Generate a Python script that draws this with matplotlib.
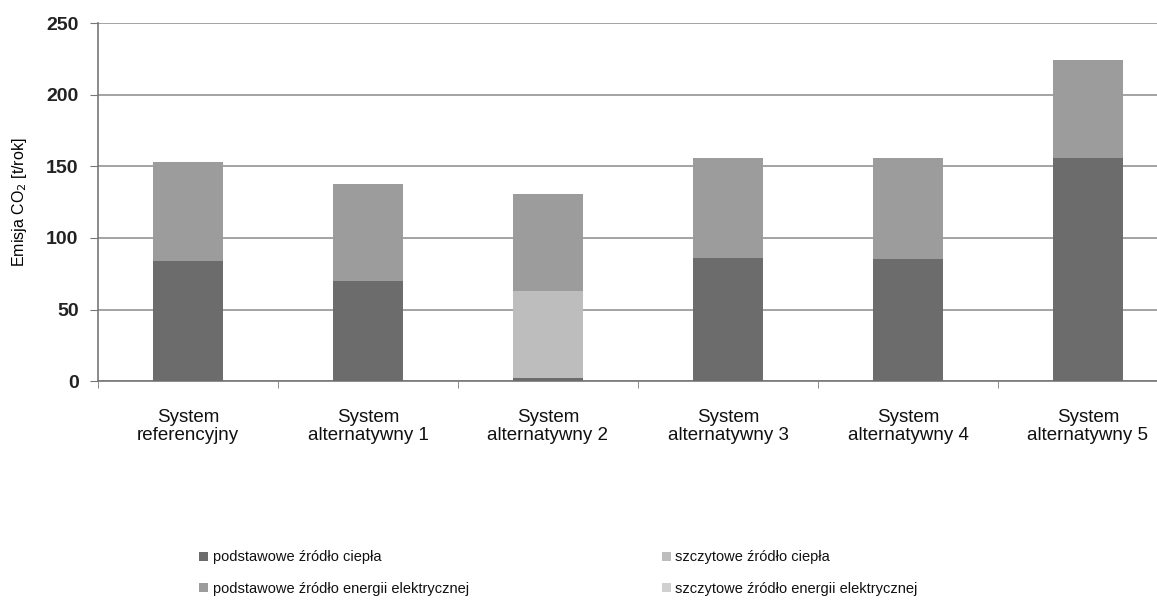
import matplotlib.pyplot as plt
import numpy as np

plt.rcParams['font.family'] = ['Liberation Sans', 'DejaVu Sans']

systems = ['System\nreferencyjny', 'System\nalternatywny 1', 'System\nalternatywny 2',
           'System\nalternatywny 3', 'System\nalternatywny 4', 'System\nalternatywny 5']

# emisja CO2 [t/rok] dla kazdego zrodla
podst_cieplo = [84, 70, 2, 86, 85, 156]
szczyt_cieplo = [0, 0, 61, 0, 0, 0]
podst_el = [69, 68, 68, 70, 71, 68]
szczyt_el = [0, 0, 0, 0, 0, 0]

series = [
    ('podstawowe źródło ciepła', podst_cieplo, '#6c6c6c'),
    ('szczytowe źródło ciepła', szczyt_cieplo, '#bdbdbd'),
    ('podstawowe źródło energii elektrycznej', podst_el, '#9c9c9c'),
    ('szczytowe źródło energii elektrycznej', szczyt_el, '#d0d0d0'),
]

fig = plt.figure(figsize=(11.57, 6.05), dpi=100)
ax = fig.add_axes([0.0847, 0.370, 0.9334, 0.5917])

x = np.arange(len(systems))
bottom = np.zeros(len(systems))
handles = []
for name, vals, col in series:
    b = ax.bar(x, vals, 0.39, bottom=bottom, color=col, label=name, zorder=3)
    handles.append(b)
    bottom += np.array(vals)

ax.set_xlim(-0.5, len(systems) - 0.5)
ax.set_ylim(0, 250)
ax.set_yticks([0, 50, 100, 150, 200, 250])
ax.yaxis.grid(True, color='#8a8a8a', linewidth=1.1, zorder=0)
ax.set_xticks(x)
ax.set_xticklabels(systems, fontsize=13.5, linespacing=1.1, color='#111111')
ax.set_xticks(np.arange(-0.5, len(systems), 1.0), minor=True)
ax.tick_params(axis='x', which='major', length=0, pad=20)
ax.tick_params(axis='x', which='minor', length=5, color='#777777')
ax.tick_params(axis='y', length=6, color='#777777', labelsize=14, pad=8)
for lbl in ax.get_yticklabels():
    lbl.set_fontweight('bold')
    lbl.set_color('#222222')

for s in ['top', 'right']:
    ax.spines[s].set_visible(False)
for s in ['left', 'bottom']:
    ax.spines[s].set_color('#777777')
    ax.spines[s].set_linewidth(1.2)

ax.set_ylabel('Emisja CO$_2$ [t/rok]', fontsize=11.5, labelpad=12)

# legenda w dwoch kolumnach pod wykresem
kw = dict(frameon=False, fontsize=10.5, handlelength=0.6, handleheight=0.6,
          handletextpad=0.3, labelspacing=1.2, labelcolor='#111111')
fig.legend([handles[0], handles[2]], [series[0][0], series[2][0]],
           loc='upper left', bbox_to_anchor=(0.161, 0.112), **kw)
fig.legend([handles[1], handles[3]], [series[1][0], series[3][0]],
           loc='upper left', bbox_to_anchor=(0.561, 0.112), **kw)

fig.savefig('out.png', dpi=100)
